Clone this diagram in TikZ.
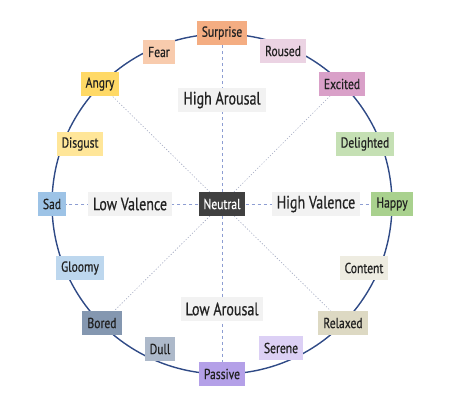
\documentclass[tikz,border=0pt]{standalone}
\usepackage{fontspec}
\setmainfont{PT Sans}
\newfontfamily\moodfont[FakeStretch=0.8, FakeBold=0.6]{PT Sans}
\newfontfamily\axisfont[FakeStretch=0.78, FakeBold=0.5]{PT Sans}
\usetikzlibrary{backgrounds}

\definecolor{ringblue}{HTML}{2F4A86}
\definecolor{axisblue}{HTML}{8D9DD2}
\definecolor{diaggray}{HTML}{A3AAC2}
\definecolor{textgray}{HTML}{222222}
\definecolor{boxgray}{HTML}{F2F2F2}
\definecolor{surprisefill}{HTML}{F4AD82}
\definecolor{fearfill}{HTML}{F8CBAD}
\definecolor{rousedfill}{HTML}{EBD3E3}
\definecolor{angryfill}{HTML}{FFD966}
\definecolor{excitedfill}{HTML}{D9A0C8}
\definecolor{disgustfill}{HTML}{FFE699}
\definecolor{delightedfill}{HTML}{C5E0B4}
\definecolor{sadfill}{HTML}{9DC3E6}
\definecolor{happyfill}{HTML}{A9D18E}
\definecolor{gloomyfill}{HTML}{BDD7EE}
\definecolor{contentfill}{HTML}{EEECE1}
\definecolor{boredfill}{HTML}{8497B0}
\definecolor{relaxedfill}{HTML}{DDD9C3}
\definecolor{dullfill}{HTML}{ADB9CA}
\definecolor{serenefill}{HTML}{DCD0F5}
\definecolor{passivefill}{HTML}{B4A0E8}
\definecolor{neutralfill}{HTML}{404040}

\tikzset{
  mood/.style={fill=#1, text=textgray, font=\moodfont\fontsize{14.5}{16}\selectfont,
    inner xsep=5pt, minimum height=23.5pt},
  axislabel/.style={fill=boxgray, text=textgray, font=\axisfont\fontsize{18}{20}\selectfont,
    inner xsep=5pt, minimum height=24.5pt},
  axisline/.style={axisblue, dash pattern=on 3pt off 3pt, line width=.8pt},
  diagline/.style={diaggray, dash pattern=on 1.2pt off 1.8pt, line width=.6pt},
}

\begin{document}
\begin{tikzpicture}[x=1pt, y=1pt, line join=round]
  \useasboundingbox (-222,-196) rectangle (243,204);

  % emotions round the ring
  \node[mood=surprisefill] (surprise) at (0,171) {Surprise};
  \node[mood=fearfill] (fear)     at (-63,152) {Fear};
  \node[mood=rousedfill] (roused)   at (61,153) {Roused};
  \node[mood=angryfill] (angry)    at (-122,120) {Angry};
  \node[mood=excitedfill] (excited)  at (120,120) {Excited};
  \node[mood=disgustfill] (disgust)  at (-142,60) {Disgust};
  \node[mood=delightedfill] (delighted) at (143,60) {Delighted};
  \node[mood=sadfill] (sad)      at (-170,0) {Sad};
  \node[mood=happyfill] (happy)    at (170,0) {Happy};
  \node[mood=gloomyfill] (gloomy)   at (-142,-64) {Gloomy};
  \node[mood=contentfill] (content)  at (142,-64) {Content};
  \node[mood=boredfill] (bored)    at (-120,-119) {Bored};
  \node[mood=relaxedfill] (relaxed)  at (121,-119) {Relaxed};
  \node[mood=dullfill] (dull)     at (-62,-145) {Dull};
  \node[mood=serenefill] (serene)   at (59,-144) {Serene};
  \node[mood=passivefill] (passive)  at (0,-170) {Passive};
  \node[mood=neutralfill, text=white] (neutral) at (0,0) {Neutral};

  % axis names
  \node[axislabel] (higharousal) at (0,104) {High Arousal};
  \node[axislabel] (lowarousal)  at (0,-105) {Low Arousal};
  \node[axislabel] (lowvalence)  at (-92,0) {Low Valence};
  \node[axislabel] (highvalence) at (94,0) {High Valence};

  \begin{scope}[on background layer]
    \draw[ringblue, line width=1.4pt] (0,0) circle (170);
    \draw[axisline] (neutral) -- (surprise);
    \draw[axisline] (neutral) -- (passive);
    \draw[axisline] (neutral) -- (sad);
    \draw[axisline] (neutral) -- (happy);
    \draw[diagline] (neutral) -- (angry);
    \draw[diagline] (neutral) -- (excited);
    \draw[diagline] (neutral) -- (bored);
    \draw[diagline] (neutral) -- (relaxed);
  \end{scope}
\end{tikzpicture}
\end{document}
